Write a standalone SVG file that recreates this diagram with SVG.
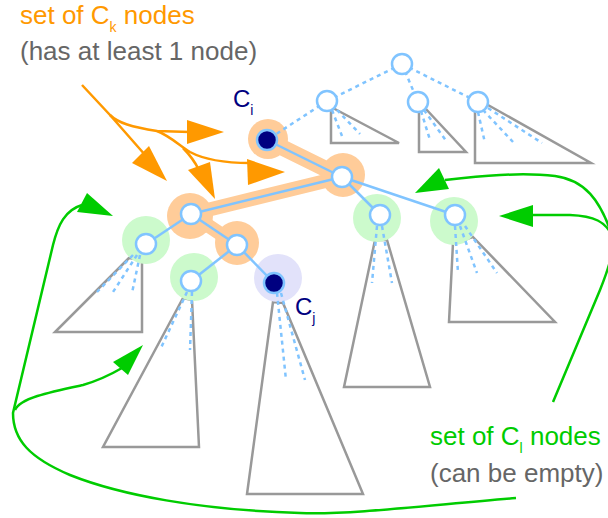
<svg xmlns="http://www.w3.org/2000/svg" width="608" height="518" viewBox="0 0 608 518">
<style>
.tri{fill:none;stroke:#999999;stroke-width:2.5;stroke-linejoin:miter}
.dash{fill:none;stroke:#80c4ff;stroke-width:2.5;stroke-dasharray:4,4}
.edge{fill:none;stroke:#80c4ff;stroke-width:2.5}
.band{fill:none;stroke:#ffcc99;stroke-linecap:round}
.halo-o{fill:#ffcc99}
.halo-g{fill:#ccfacc}
.halo-l{fill:#e2e2fa}
.node{fill:#ffffff;stroke:#80c4ff;stroke-width:2.5}
.nodec{fill:#000080;stroke:#80c4ff;stroke-width:2.5}
.oline{fill:none;stroke:#ff9900;stroke-width:2.5}
.ohead{fill:#ff9900}
.gline{fill:none;stroke:#00cc00;stroke-width:2.5}
.ghead{fill:#00cc00}
text{font-family:"Liberation Sans",Arial,sans-serif}
</style>
<g id="subtrees">
<polygon class="tri" points="331,107 331,143 399,143"/>
<polygon class="tri" points="425,108 466,152 419,152 419,110"/>
<polygon class="tri" points="488,105 591,163 475,163 475,110"/>
<polygon class="tri" points="129,258 55,332 142,332 142,260"/>
<polygon class="tri" points="183,298 103,447 199,447 192,300"/>
<polygon class="tri" points="273,302 247,494 363,494 283,303"/>
<polygon class="tri" points="375,240 344,387 430,387 387,240"/>
<polygon class="tri" points="473,237 555,322 449,322 453,243"/>
</g>
<g id="halos">
<line class="band" x1="267" y1="140" x2="342" y2="177" stroke-width="16"/>
<line class="band" x1="342" y1="177" x2="191" y2="214" stroke-width="14"/>
<line class="band" x1="191" y1="214" x2="237" y2="245" stroke-width="14"/>
<circle class="halo-o" cx="268" cy="139" r="20"/>
<circle class="halo-o" cx="343" cy="175" r="22"/>
<circle class="halo-o" cx="190" cy="216" r="23"/>
<circle class="halo-o" cx="237" cy="243" r="22"/>
<circle class="halo-g" cx="146" cy="240" r="24"/>
<circle class="halo-g" cx="194" cy="277" r="24"/>
<circle class="halo-g" cx="377" cy="218" r="24"/>
<circle class="halo-g" cx="454" cy="221" r="24"/>
<circle class="halo-l" cx="278" cy="278" r="24"/>
</g>
<g id="connectors">
<line class="dash" x1="402" y1="64" x2="327" y2="101"/>
<line class="dash" x1="402" y1="64" x2="418" y2="102"/>
<line class="dash" x1="402" y1="64" x2="478" y2="102"/>
<line class="dash" x1="327" y1="101" x2="267" y2="140"/>
<line class="edge" x1="267" y1="140" x2="342" y2="177"/>
<line class="edge" x1="342" y1="177" x2="191" y2="214"/>
<line class="edge" x1="342" y1="177" x2="380" y2="215"/>
<line class="edge" x1="342" y1="177" x2="455" y2="215"/>
<line class="edge" x1="191" y1="214" x2="146" y2="244"/>
<line class="edge" x1="191" y1="214" x2="237" y2="245"/>
<line class="edge" x1="237" y1="245" x2="191" y2="281"/>
<line class="edge" x1="237" y1="245" x2="274" y2="283"/>
<path class="dash" d="M332,110 L342,136 M337,110 L360,134"/>
<path class="dash" d="M421,111 L430,140 M424,110 L447,142"/>
<path class="dash" d="M478,112 L485,143 M483,110 L513,142 M488,108 L542,143"/>
<path class="dash" d="M140,255 L132,293 M137,255 L113,292 M133,255 L97,292"/>
<path class="dash" d="M187,292 L160,350 M192,292 L190,350"/>
<path class="dash" d="M277,293 L286,380 M281,293 L305,380"/>
<path class="dash" d="M377,226 L372,283 M382,226 L392,283"/>
<path class="dash" d="M455,226 L458,273 M460,226 L477,273 M465,226 L497,273"/>
<path class="oline" d="M82,85 L110,115 L146,156"/>
<path class="oline" d="M110,115 C118,123 132,127 157,131 L190,132"/>
<path class="oline" d="M157,131 C170,136 180,146 190,152 C205,160 225,163 250,163"/>
<path class="oline" d="M183,148 C190,155 195,162 199,170"/>
<polygon class="ohead" points="167,181 132,163 149,146"/>
<polygon class="ohead" points="224,132 187,120 187,144"/>
<polygon class="ohead" points="285,172 247,159 248,185"/>
<polygon class="ohead" points="215,199 188,170 210,162"/>
<path class="gline" d="M516,498 C430,505 350,515 300,513 C200,510 120,495 70,475 C30,458 13,440 13,413 L53,245 C58,225 65,210 82,205"/>
<path class="gline" d="M15,410 C20,398 50,392 83,385 C100,380 110,375 122,368"/>
<path class="gline" d="M553,402 L600,290 C608,270 615,250 612,235"/>
<path class="gline" d="M612,235 C600,200 585,180 555,176 C520,172 480,176 445,180"/>
<path class="gline" d="M612,235 C605,222 595,216 570,215 L533,215"/>
<polygon class="ghead" points="113,216 87,193 77,212"/>
<polygon class="ghead" points="143,345 113,362 128,375"/>
<polygon class="ghead" points="415,193 439,168 449,189"/>
<polygon class="ghead" points="499,216 533,205 533,227"/>
</g>
<g id="n-root"><circle class="node" cx="402" cy="64" r="10"/></g>
<g id="n-l1"><circle class="node" cx="327" cy="101" r="10"/></g>
<g id="n-l2"><circle class="node" cx="418" cy="102" r="10"/></g>
<g id="n-l3"><circle class="node" cx="478" cy="102" r="10"/></g>
<g id="n-ci"><circle class="nodec" cx="267" cy="140" r="10"/>
<text x="233" y="107" font-size="24" fill="#000080">C<tspan font-size="14" dy="8">i</tspan></text></g>
<g id="n-a"><circle class="node" cx="342" cy="177" r="10"/></g>
<g id="n-b"><circle class="node" cx="191" cy="214" r="10"/></g>
<g id="n-c"><circle class="node" cx="146" cy="244" r="10"/></g>
<g id="n-d"><circle class="node" cx="237" cy="245" r="10"/></g>
<g id="n-e"><circle class="node" cx="191" cy="281" r="10"/></g>
<g id="n-cj"><circle class="nodec" cx="274" cy="283" r="10"/>
<text x="295" y="315" font-size="24" fill="#000080">C<tspan font-size="14" dy="8">j</tspan></text></g>
<g id="n-f"><circle class="node" cx="380" cy="215" r="10"/></g>
<g id="n-g"><circle class="node" cx="455" cy="215" r="10"/></g>
<g id="label-ck">
<text x="20" y="24" font-size="26" fill="#ff9900">set of C<tspan font-size="14" dy="8">k</tspan><tspan dy="-8"> nodes</tspan></text>
<text x="20" y="60" font-size="26" fill="#666666">(has at least 1 node)</text>
</g>
<g id="label-cl">
<text x="430" y="445" font-size="26" fill="#00cc00">set of C<tspan font-size="14" dy="8">l</tspan><tspan dy="-8"> nodes</tspan></text>
<text x="430" y="482" font-size="26" fill="#666666">(can be empty)</text>
</g>
</svg>
